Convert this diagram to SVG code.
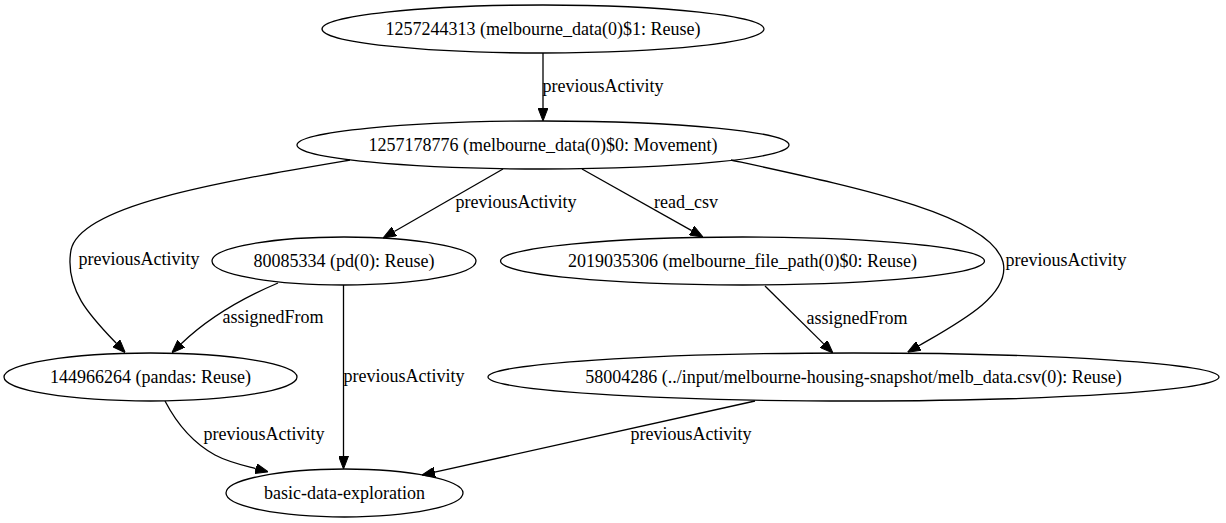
<svg xmlns="http://www.w3.org/2000/svg" width="1226" height="523" viewBox="0 0 1226 523">
<style>
  .n ellipse { fill: none; stroke: #000; stroke-width: 1.3; }
  text { font-family: "Liberation Serif", "Times New Roman", serif; font-size: 18px; fill: #000; }
  .n text { text-anchor: middle; }
  .e path { fill: none; stroke: #000; stroke-width: 1.3; marker-end: url(#arr); }
  .lbl text { text-anchor: middle; }
</style>
<defs>
  <marker id="arr" viewBox="0 0 13 10" refX="0" refY="5" markerWidth="13" markerHeight="10" markerUnits="userSpaceOnUse" orient="auto">
    <path d="M0,0 L13,5 L0,10 z" fill="#000" stroke="#000" stroke-width="1"/>
  </marker>
</defs>
<rect width="1226" height="523" fill="#fff"/>
<g id="edges" class="e">
  <path d="M543,53 L543,108"/>
  <path d="M503,169 L394.3,231.5"/>
  <path d="M582,169 L691.7,230.6"/>
  <path d="M350,160 C220,182 80,205 71,250 C64,290 92,318 116.3,343.3"/>
  <path d="M278,283 C245,297 208,318 181.2,343.8"/>
  <path d="M343.5,285 L343.5,456"/>
  <path d="M165,401 C178,426 195,444 215,455 C228,462 242,465 255.7,468.6"/>
  <path d="M755,401 L434.7,472.2"/>
  <path d="M765,286 L823.7,343.9"/>
  <path d="M731,160 C860,188 990,215 1003,262 C1011,295 960,322 918.8,345.8"/>
</g>
<g id="edge-labels" class="lbl">
  <text x="603" y="92">previousActivity</text>
  <text x="516" y="208">previousActivity</text>
  <text x="686" y="208">read_csv</text>
  <text x="139" y="265">previousActivity</text>
  <text x="273" y="323">assignedFrom</text>
  <text x="404" y="382">previousActivity</text>
  <text x="264" y="440">previousActivity</text>
  <text x="691" y="440">previousActivity</text>
  <text x="857" y="324">assignedFrom</text>
  <text x="1066" y="266">previousActivity</text>
</g>
<g id="n1257244313" class="n">
  <ellipse cx="543" cy="29" rx="221" ry="24"/>
  <text x="543" y="35">1257244313 (melbourne_data(0)$1: Reuse)</text>
</g>
<g id="n1257178776" class="n">
  <ellipse cx="543" cy="145" rx="246" ry="24"/>
  <text x="543" y="151">1257178776 (melbourne_data(0)$0: Movement)</text>
</g>
<g id="n80085334" class="n">
  <ellipse cx="344" cy="261" rx="132" ry="24"/>
  <text x="344" y="267">80085334 (pd(0): Reuse)</text>
</g>
<g id="n2019035306" class="n">
  <ellipse cx="742.5" cy="261" rx="242" ry="24"/>
  <text x="742.5" y="267">2019035306 (melbourne_file_path(0)$0: Reuse)</text>
</g>
<g id="n144966264" class="n">
  <ellipse cx="150.5" cy="377" rx="146.5" ry="24"/>
  <text x="150.5" y="383">144966264 (pandas: Reuse)</text>
</g>
<g id="n58004286" class="n">
  <ellipse cx="853.5" cy="377" rx="365.5" ry="24"/>
  <text x="853.5" y="383">58004286 (../input/melbourne-housing-snapshot/melb_data.csv(0): Reuse)</text>
</g>
<g id="nbasic" class="n">
  <ellipse cx="344.5" cy="493" rx="118.5" ry="24"/>
  <text x="344.5" y="499">basic-data-exploration</text>
</g>
</svg>
